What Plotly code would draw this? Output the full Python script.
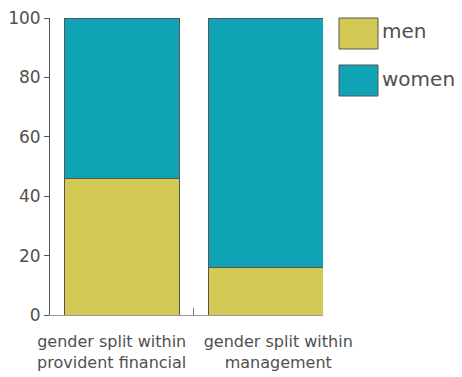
import plotly.graph_objects as go

NB = "\u00a0"
categories = [
    "gender split within" + NB * 4 + "<br>provident financial" + NB * 4,
    NB * 5 + "gender split within<br>" + NB * 5 + "management",
]
men = [46, 16]
women = [54, 84]
series_names = ["men", "women"]
colors = ["#D3CA55", "#10A3B5"]
y_ticks = [0, 20, 40, 60, 80, 100]

FONT = "DejaVu Sans"

fig = go.Figure()
for name, vals, col in zip(series_names, [men, women], colors):
    fig.add_trace(go.Bar(
        x=[0, 1], y=vals, name=name, width=0.8,
        marker=dict(color=col, line=dict(color="#555555", width=1)),
        showlegend=False,
    ))

# custom legend boxes
leg_y = [(18, 49), (65, 96)]
for (y0, y1), name, col in zip(leg_y, series_names, colors):
    fig.add_shape(type="rect", xref="paper", yref="paper",
                  x0=(339 - 50) / 273, x1=(378 - 50) / 273,
                  y0=1 - (y1 - 18) / 297, y1=1 - (y0 - 18) / 297,
                  fillcolor=col, line=dict(color="#555555", width=1))
    fig.add_annotation(xref="paper", yref="paper", x=(380 - 50) / 273,
                       y=1 - ((y0 + y1) / 2 - 20) / 297, text=name,
                       showarrow=False, xanchor="left", yanchor="middle",
                       font=dict(family=FONT, size=20, color="#505050"))

fig.update_layout(
    barmode="stack",
    width=462, height=377,
    margin=dict(l=50, r=462 - 323, t=18, b=62, autoexpand=False),
    plot_bgcolor="white", paper_bgcolor="white",
    font=dict(family=FONT, color="#505050"),
    xaxis=dict(
        tickmode="array", tickvals=[0, 1], ticktext=categories,
        range=[-0.5, 1.4], showline=True, linecolor="#999999", linewidth=1,
        ticks="", tickangle=0,
        minor=dict(tickmode="array", tickvals=[0.5], ticks="inside", ticklen=7,
                   tickcolor="#777777", showgrid=False),
        tickfont=dict(size=16, color="#505050"), showgrid=False, zeroline=False,
        automargin=False, ticklabelstandoff=12,
    ),
    yaxis=dict(
        range=[0, 100], tickvals=y_ticks, showline=True, linecolor="#555555",
        linewidth=1, ticks="outside", ticklen=5, tickcolor="#555555",
        tickfont=dict(size=17, color="#505050"), showgrid=False, zeroline=False,
        automargin=False,
    ),
)

fig.write_html("out.html")
